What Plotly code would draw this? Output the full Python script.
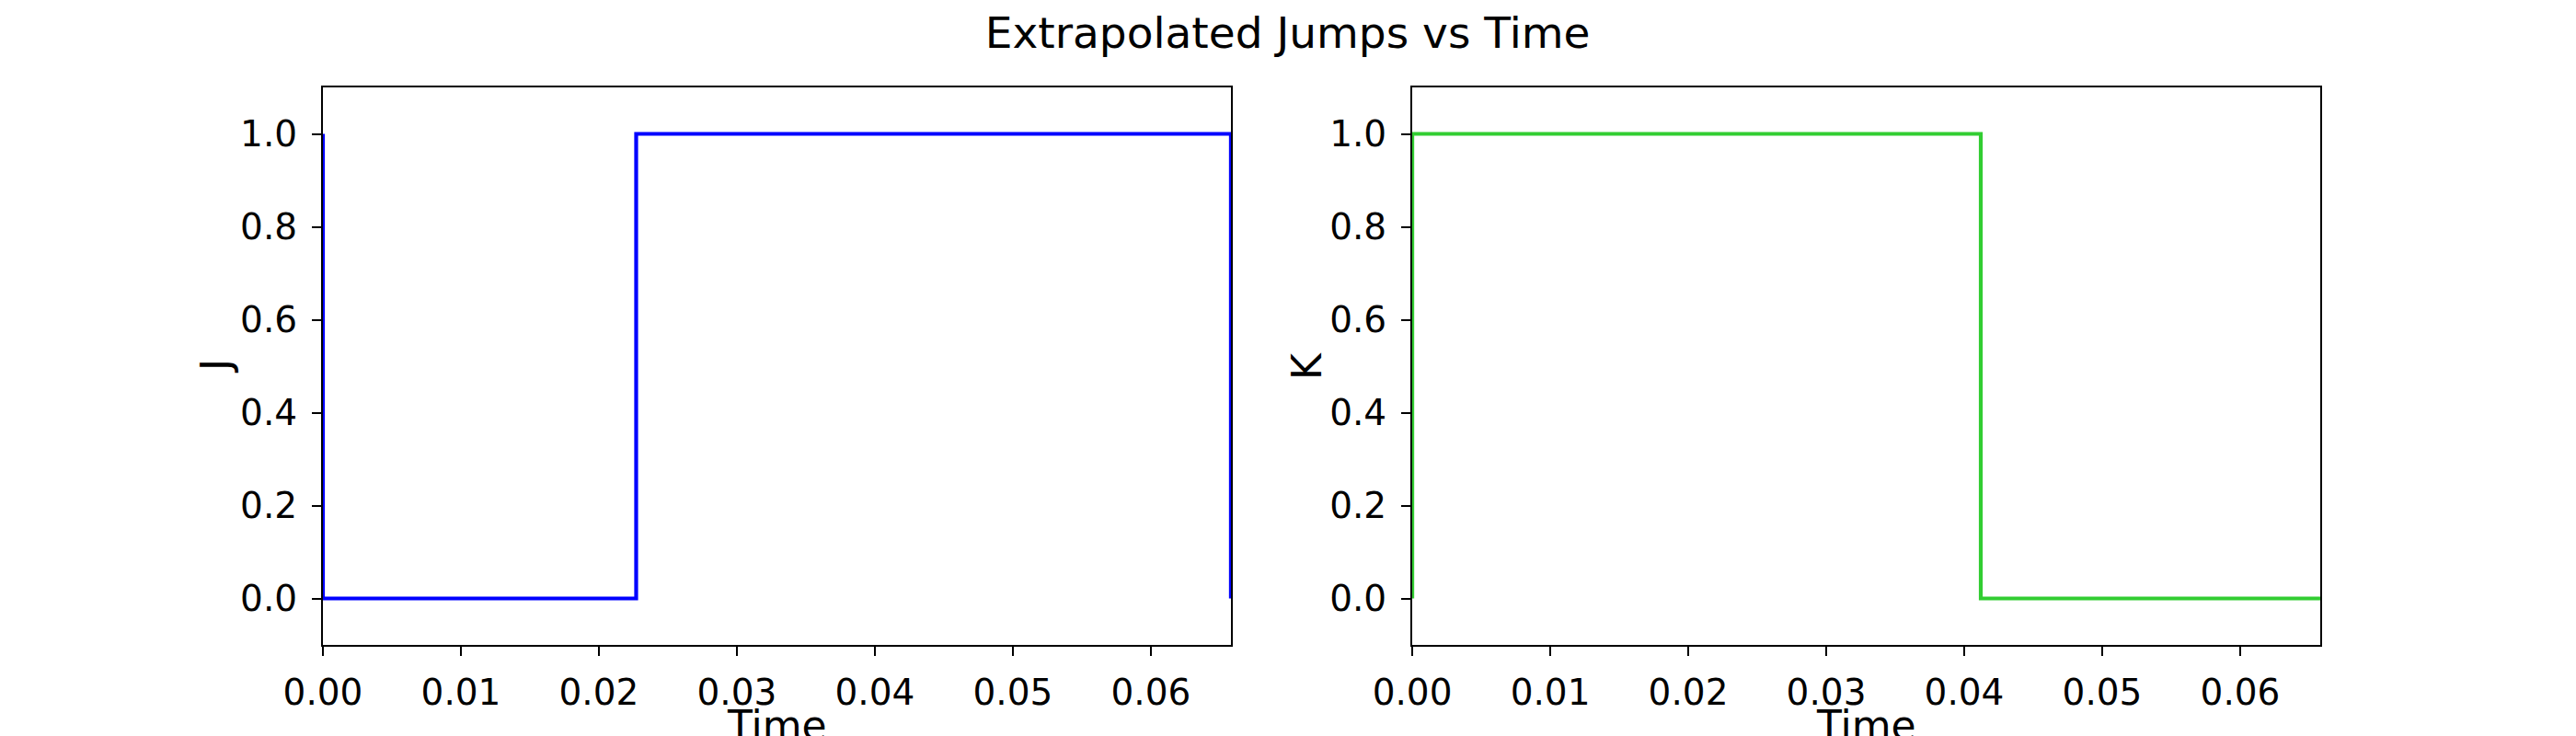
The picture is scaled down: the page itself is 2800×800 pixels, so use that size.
import plotly.graph_objects as go
from plotly.subplots import make_subplots

# step data
time_j = [0.0, 0.0, 0.0227, 0.0658, 0.0658]
jump_j = [1, 0, 1, 1, 0]

time_k = [0.0, 0.0, 0.0412, 0.0658]
jump_k = [0, 1, 0, 0]

x_ticks = [0.00, 0.01, 0.02, 0.03, 0.04, 0.05, 0.06]
y_ticks = [0.0, 0.2, 0.4, 0.6, 0.8, 1.0]

fig = make_subplots(rows=1, cols=2, horizontal_spacing=0.0908)

fig.add_trace(go.Scatter(x=time_j, y=jump_j, mode="lines", line_shape="hv",
                         line=dict(color="blue", width=4.2), name="J"), row=1, col=1)
fig.add_trace(go.Scatter(x=time_k, y=jump_k, mode="lines", line_shape="hv",
                         line=dict(color="limegreen", width=4.2), name="K"), row=1, col=2)

font = "DejaVu Sans"
axis_common = dict(showline=True, linecolor="black", linewidth=2.2, mirror=True,
                   ticks="outside", ticklen=10, tickwidth=2.2, tickcolor="black",
                   showgrid=False, zeroline=False, automargin=False,
                   tickfont=dict(family=font, size=39, color="black"))

fig.update_xaxes(range=[0, 0.0658], tickvals=x_ticks, tickformat=".2f",
                 ticklabelstandoff=6, **axis_common)
fig.update_yaxes(range=[-0.1, 1.1], tickvals=y_ticks, tickformat=".1f",
                 ticklabelstandoff=8, **axis_common)

# axis titles as annotations so they sit where the reference has them
label_font = dict(family=font, size=44, color="black")
x_dom1 = fig.layout.xaxis.domain
x_dom2 = fig.layout.xaxis2.domain
for dom in (x_dom1, x_dom2):
    fig.add_annotation(text="Time", x=(dom[0] + dom[1]) / 2, y=-0.1436,
                       xref="paper", yref="paper", xanchor="center", yanchor="middle",
                       showarrow=False, font=label_font)
fig.add_annotation(text="J", x=-0.0539, y=0.5, xref="paper", yref="paper",
                   xanchor="center", yanchor="middle", textangle=-90,
                   showarrow=False, font=label_font)
fig.add_annotation(text="K", x=0.4924, y=0.5, xref="paper", yref="paper",
                   xanchor="center", yanchor="middle", textangle=-90,
                   showarrow=False, font=label_font)

fig.update_layout(
    width=2800, height=800,
    margin=dict(l=343, r=286, t=87, b=107),
    plot_bgcolor="white", paper_bgcolor="white",
    showlegend=False,
    title=dict(text="Extrapolated Jumps vs Time", x=0.497, xanchor="center",
               xref="container", y=0.966, yref="container", yanchor="middle",
               font=dict(family=font, size=47, color="black")),
)

fig.write_html("out.html")
